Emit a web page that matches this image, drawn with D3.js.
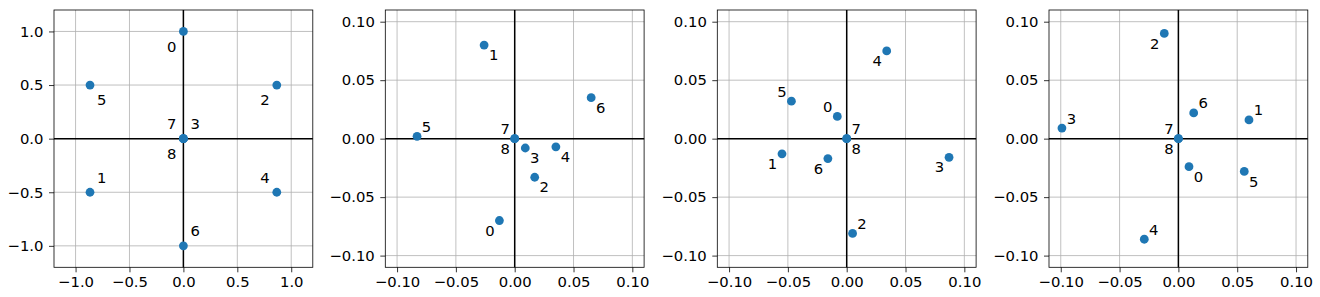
<!DOCTYPE html>
<html>
<head>
<meta charset="utf-8">
<script src="https://cdn.jsdelivr.net/npm/d3@7"></script>
<style>
  body { margin: 0; background: #fff; }
  svg text { font-family: "DejaVu Sans", sans-serif; }
</style>
</head>
<body>
<div id="chart"></div>
<script>
// point ids 0..8, same in every panel
var pointIds = [0, 1, 2, 3, 4, 5, 6, 7, 8];

// panel 1
var panel1X = [0, -0.866, 0.866, 0, 0.866, -0.866, 0, 0, 0];
var panel1Y = [1, -0.5, 0.5, 0, -0.5, 0.5, -1, 0, 0];
var panel1Place = ['LL', 'UR', 'LL', 'UR', 'UL', 'LR', 'UR', 'UL', 'LL'];
var panel1Ticks = [-1, -0.5, 0, 0.5, 1];

// panel 2
var panel2X = [-0.013, -0.026, 0.017, 0.009, 0.035, -0.083, 0.065, 0, 0];
var panel2Y = [-0.070, 0.080, -0.033, -0.008, -0.007, 0.002, 0.035, 0, 0];
var panel2Place = ['LL', 'LR', 'LR', 'LR', 'LR', 'UR', 'LR', 'UL', 'LL'];

// panel 3
var panel3X = [-0.008, -0.055, 0.005, 0.087, 0.034, -0.047, -0.016, 0, 0];
var panel3Y = [0.019, -0.013, -0.081, -0.016, 0.075, 0.032, -0.017, 0, 0];
var panel3Place = ['UL', 'LL', 'UR', 'LL', 'LL', 'UL', 'LL', 'UR', 'LR'];

// panel 4
var panel4X = [0.009, 0.060, -0.012, -0.099, -0.029, 0.056, 0.013, 0, 0];
var panel4Y = [-0.024, 0.016, 0.090, 0.009, -0.086, -0.028, 0.022, 0, 0];
var panel4Place = ['LR', 'UR', 'LL', 'UR', 'UR', 'LR', 'UR', 'UL', 'LL'];

var smallTicks = [-0.1, -0.05, 0, 0.05, 0.1];

var width = 1320;
var height = 297;
var color = '#1f77b4';
var fontSize = 14.8;

var panels = [
  {left: 54,   lim: 1.2,  xs: panel1X, ys: panel1Y, place: panel1Place, ticks: panel1Ticks, fmt: '.1f', off: [11.7, 15]},
  {left: 385.3, lim: 0.11, xs: panel2X, ys: panel2Y, place: panel2Place, ticks: smallTicks, fmt: '.2f', off: [9.5, 9.8]},
  {left: 717.3, lim: 0.11, xs: panel3X, ys: panel3Y, place: panel3Place, ticks: smallTicks, fmt: '.2f', off: [9.5, 9.8]},
  {left: 1049, lim: 0.11, xs: panel4X, ys: panel4Y, place: panel4Place, ticks: smallTicks, fmt: '.2f', off: [9.5, 9.8]}
];
var plotTop = 10;
var pw = 258.8;
var ph = 257.3;

var svg = d3.select('#chart')
            .append('svg')
            .attr('width', width)
            .attr('height', height);

panels.forEach(function(p) {
  var g = svg.append('g').attr('transform', `translate(${p.left},${plotTop})`);

  var x = d3.scaleLinear().domain([-p.lim, p.lim]).range([0, pw]);
  var y = d3.scaleLinear().domain([-p.lim, p.lim]).range([ph, 0]);

  // grid
  g.selectAll('.gx').data(p.ticks).enter().append('line')
   .attr('x1', d => x(d)).attr('x2', d => x(d))
   .attr('y1', 0).attr('y2', ph)
   .attr('stroke', '#b0b0b0').attr('stroke-width', 0.8);
  g.selectAll('.gy').data(p.ticks).enter().append('line')
   .attr('y1', d => y(d)).attr('y2', d => y(d))
   .attr('x1', 0).attr('x2', pw)
   .attr('stroke', '#b0b0b0').attr('stroke-width', 0.8);

  // zero lines
  g.append('line').attr('x1', 0).attr('x2', pw).attr('y1', y(0)).attr('y2', y(0))
   .attr('stroke', '#000').attr('stroke-width', 1.5);
  g.append('line').attr('x1', x(0)).attr('x2', x(0)).attr('y1', 0).attr('y2', ph)
   .attr('stroke', '#000').attr('stroke-width', 1.5);

  // axes
  var xAxis = d3.axisBottom(x).tickValues(p.ticks).tickFormat(d3.format(p.fmt))
                .tickSize(5).tickPadding(4.5);
  var yAxis = d3.axisLeft(y).tickValues(p.ticks).tickFormat(d3.format(p.fmt))
                .tickSize(5).tickPadding(5.5);
  var gx = g.append('g').attr('transform', `translate(0,${ph})`).call(xAxis);
  var gy = g.append('g').call(yAxis);
  [gx, gy].forEach(function(a) {
    a.select('.domain').remove();
    a.selectAll('line').attr('stroke', '#000').attr('stroke-width', 0.8);
    a.selectAll('text').attr('font-size', fontSize).attr('fill', '#000')
     .attr('font-family', '"DejaVu Sans", sans-serif');
  });

  // frame
  g.append('rect').attr('width', pw).attr('height', ph)
   .attr('fill', 'none').attr('stroke', '#000').attr('stroke-width', 0.8);

  // points
  g.selectAll('circle').data(pointIds).enter().append('circle')
   .attr('cx', i => x(p.xs[i]))
   .attr('cy', i => y(p.ys[i]))
   .attr('r', 4.4)
   .attr('fill', color);

  // labels
  g.selectAll('.lbl').data(pointIds).enter().append('text')
   .attr('class', 'lbl')
   .attr('x', i => x(p.xs[i]) + (p.place[i][1] === 'R' ? p.off[0] : -p.off[0]))
   .attr('y', i => y(p.ys[i]) + (p.place[i][0] === 'L' ? p.off[1] : -p.off[1]))
   .attr('dy', '0.36em')
   .attr('text-anchor', 'middle')
   .attr('font-size', fontSize)
   .attr('fill', '#000')
   .text(i => i);
});
</script>
</body>
</html>
